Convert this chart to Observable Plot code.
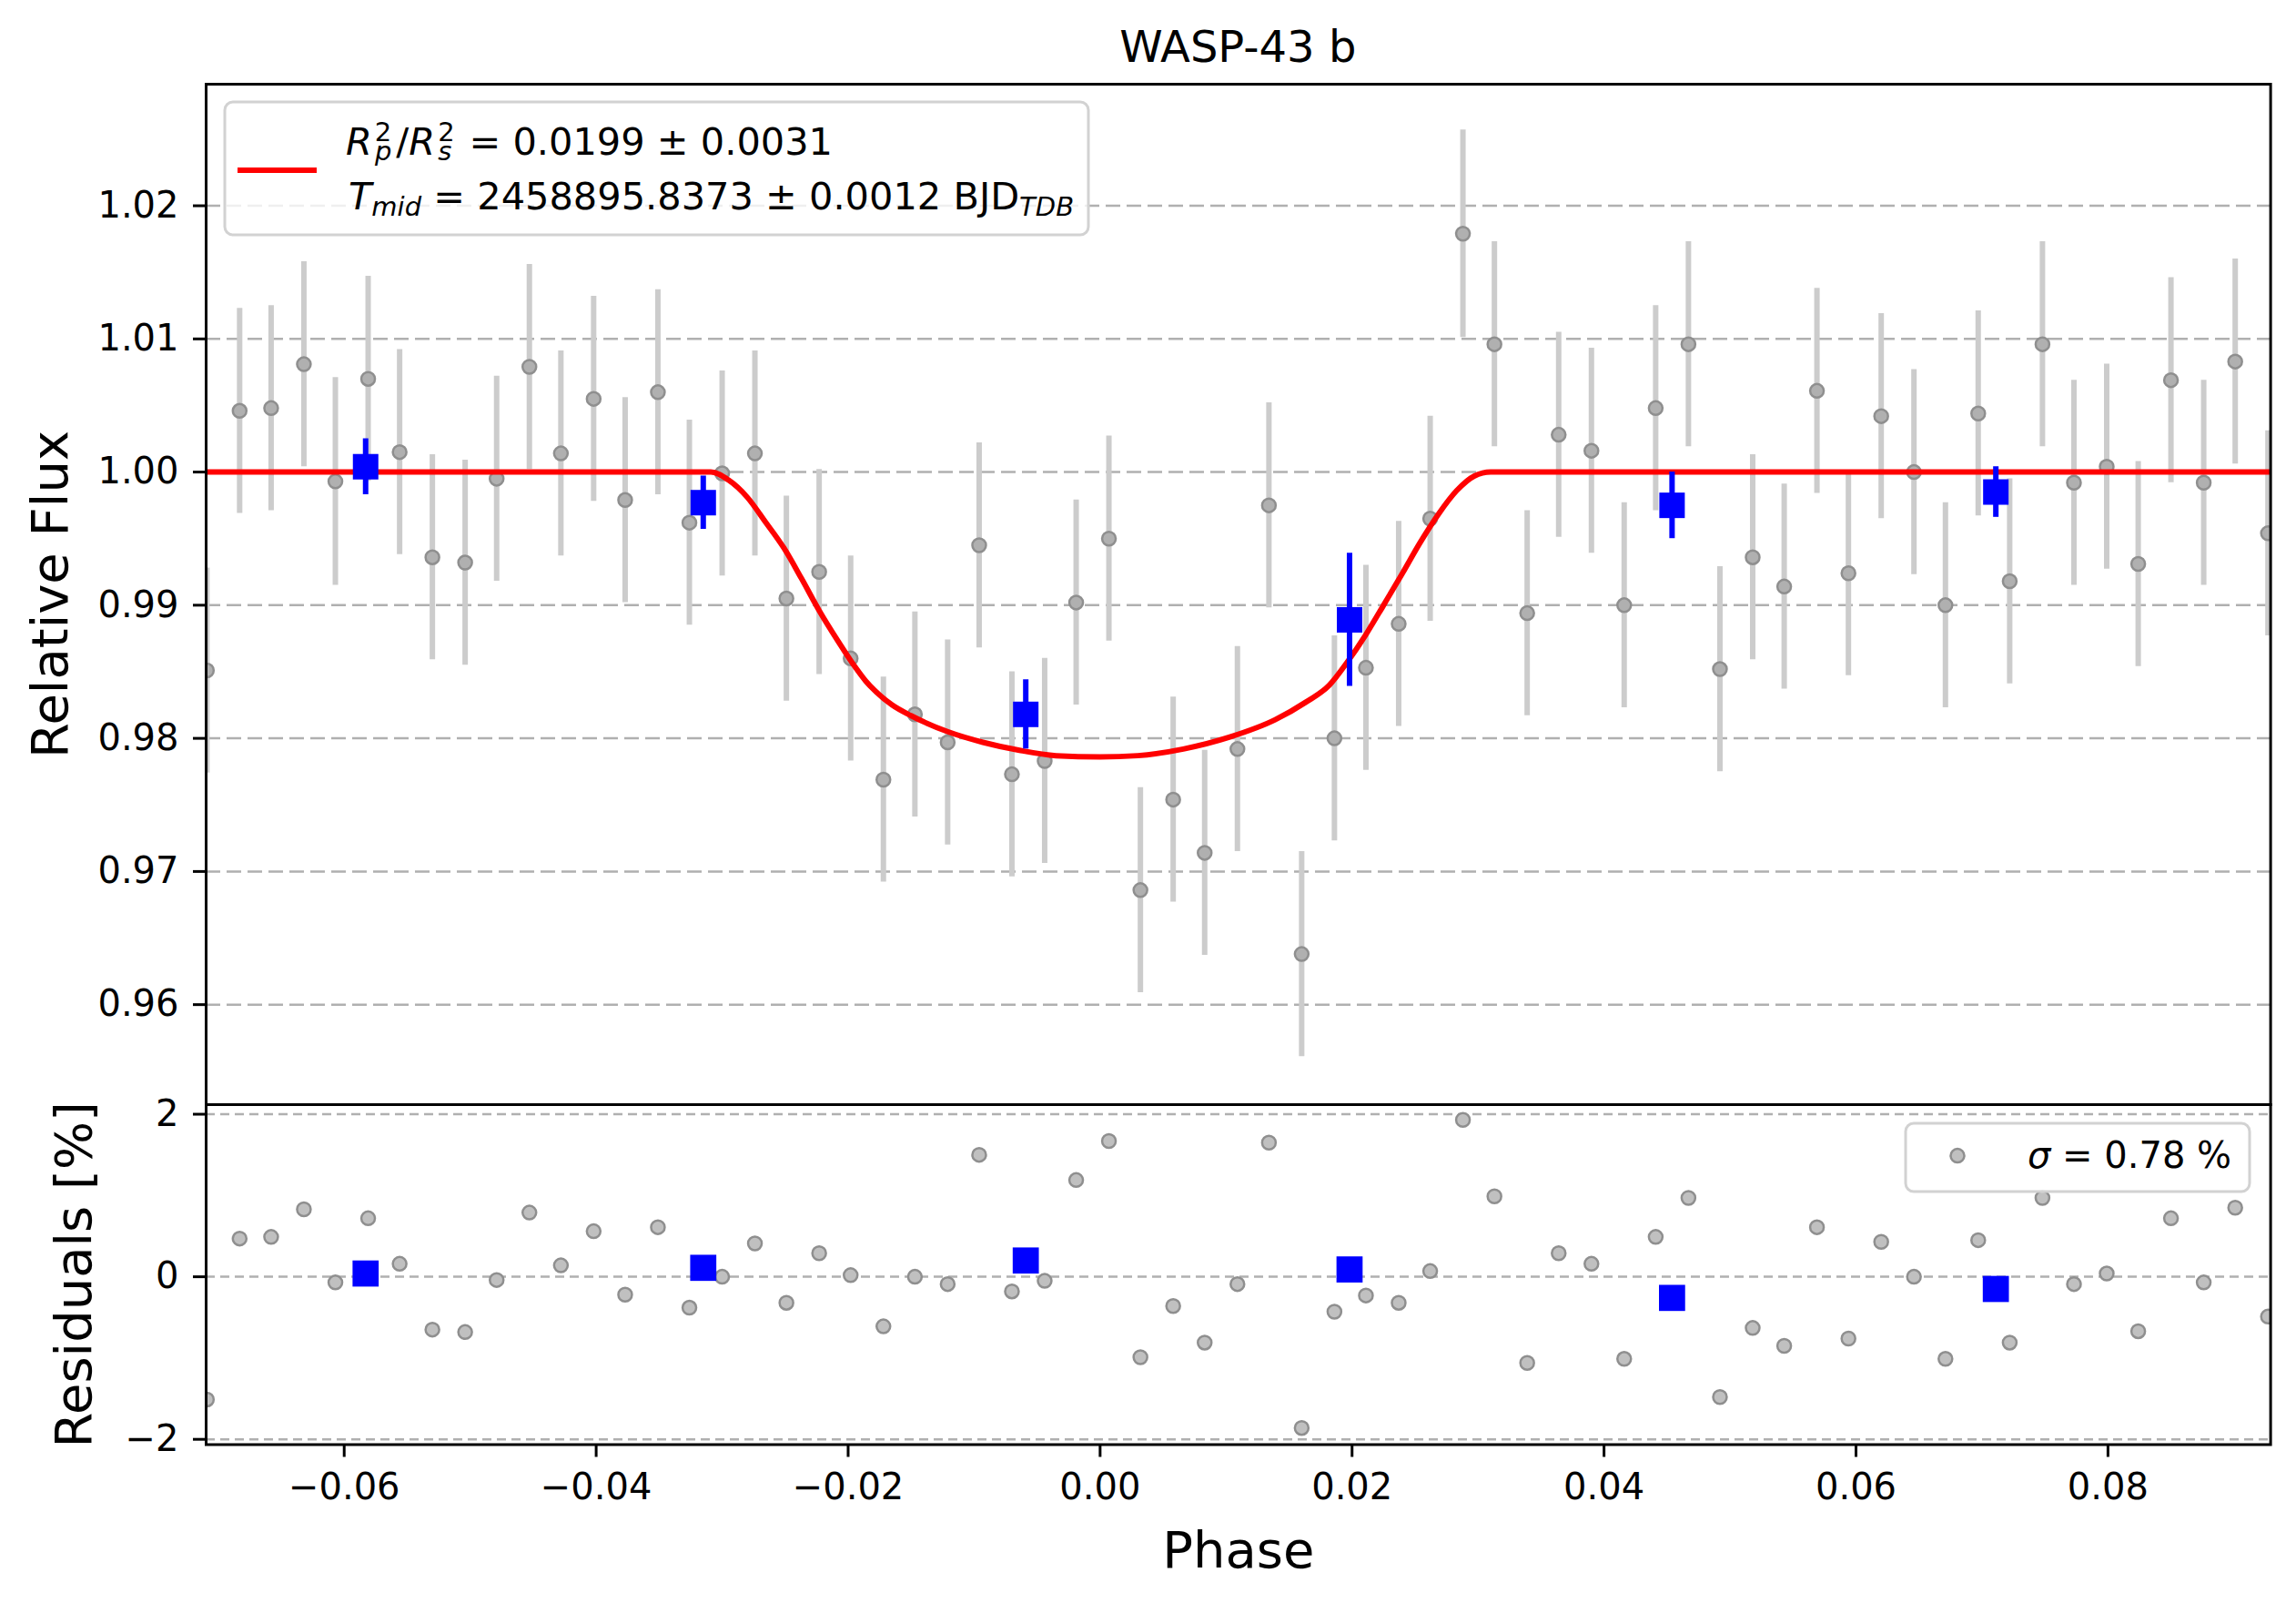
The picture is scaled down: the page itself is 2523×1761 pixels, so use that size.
<!DOCTYPE html>
<html>
<head>
<meta charset="utf-8">
<script src="https://cdn.jsdelivr.net/npm/d3@7"></script>
<script src="https://cdn.jsdelivr.net/npm/@observablehq/plot@0.6"></script>
<style>
  html, body { margin: 0; padding: 0; background: #ffffff; }
  #fig { position: relative; width: 2523px; height: 1761px; background: #ffffff; overflow: hidden; }
  #fig svg { position: absolute; left: 0; }
</style>
</head>
<body>
<div id="fig"></div>
<script>
// ---------------- data ----------------
const phase = [
  -0.0709, -0.0683, -0.0658, -0.0632, -0.0607, -0.0581, -0.0556, -0.0530, -0.0504, -0.0479,
  -0.0453, -0.0428, -0.0402, -0.0377, -0.0351, -0.0326, -0.0300, -0.0274, -0.0249, -0.0223,
  -0.0198, -0.0172, -0.0147, -0.0121, -0.0096, -0.0070, -0.0044, -0.0019,  0.0007,  0.0032,
   0.0058,  0.0083,  0.0109,  0.0134,  0.0160,  0.0186,  0.0211,  0.0237,  0.0262,  0.0288,
   0.0313,  0.0339,  0.0364,  0.0390,  0.0416,  0.0441,  0.0467,  0.0492,  0.0518,  0.0543,
   0.0569,  0.0594,  0.0620,  0.0646,  0.0671,  0.0697,  0.0722,  0.0748,  0.0773,  0.0799,
   0.0824,  0.0850,  0.0876,  0.0901,  0.0927
];
const flux = [
  0.9851, 1.0046, 1.0048, 1.0081, 0.9993, 1.0070, 1.0015, 0.9936, 0.9932, 0.9995,
  1.0079, 1.0014, 1.0055, 0.9979, 1.0060, 0.9962, 0.9999, 1.0014, 0.9905, 0.9925,
  0.9860, 0.9769, 0.9818, 0.9797, 0.9945, 0.9773, 0.9783, 0.9902, 0.9950, 0.9686,
  0.9754, 0.9714, 0.9792, 0.9975, 0.9638, 0.9800, 0.9853, 0.9886, 0.9965, 1.0179,
  1.0096, 0.9894, 1.0028, 1.0016, 0.9900, 1.0048, 1.0096, 0.9852, 0.9936, 0.9914,
  1.0061, 0.9924, 1.0042, 1.0000, 0.9900, 1.0044, 0.9918, 1.0096, 0.9992, 1.0004,
  0.9931, 1.0069, 0.9992, 1.0083, 0.9954
];
const fluxErr = [
  0.0077, 0.0077, 0.0077, 0.0077, 0.0078, 0.0077, 0.0077, 0.0077, 0.0077, 0.0077,
  0.0077, 0.0077, 0.0077, 0.0077, 0.0077, 0.0077, 0.0077, 0.0077, 0.0077, 0.0077,
  0.0077, 0.0077, 0.0077, 0.0077, 0.0077, 0.0077, 0.0077, 0.0077, 0.0077, 0.0077,
  0.0077, 0.0077, 0.0077, 0.0077, 0.0077, 0.0077, 0.0077, 0.0077, 0.0077, 0.0078,
  0.0077, 0.0077, 0.0077, 0.0077, 0.0077, 0.0077, 0.0077, 0.0077, 0.0077, 0.0077,
  0.0077, 0.0077, 0.0077, 0.0077, 0.0077, 0.0077, 0.0077, 0.0077, 0.0077, 0.0077,
  0.0077, 0.0077, 0.0077, 0.0077, 0.0077
];
const residual = [
  -1.51,  0.47,  0.49,  0.83, -0.07,  0.72,  0.16, -0.65, -0.68, -0.04,
   0.79,  0.14,  0.56, -0.22,  0.61, -0.38,  0.00,  0.41, -0.32,  0.29,
   0.02, -0.61,  0.00, -0.09,  1.50, -0.18, -0.05,  1.19,  1.67, -0.99,
  -0.36, -0.81, -0.09,  1.65, -1.86, -0.43, -0.23, -0.32,  0.07,  1.93,
   0.99, -1.06,  0.29,  0.16, -1.01,  0.49,  0.97, -1.48, -0.63, -0.85,
   0.61, -0.76,  0.43,  0.00, -1.01,  0.45, -0.81,  0.97, -0.09,  0.04,
  -0.67,  0.72, -0.07,  0.85, -0.49
];
const binPhase = [-0.0583, -0.0315, -0.0059, 0.0198, 0.0454, 0.0711];
const binFlux = [1.0004, 0.9977, 0.9818, 0.9889, 0.9975, 0.9985];
const binErr = [0.0021, 0.0020, 0.0026, 0.0050, 0.0025, 0.0019];
const binResidual = [0.04, 0.11, 0.20, 0.09, -0.26, -0.15];

// transit model curve
const modelPhase = [
  -0.0710, -0.0500, -0.0340, -0.0309, -0.0295, -0.0280, -0.0266, -0.0251, -0.0237, -0.0223,
  -0.0208, -0.0194, -0.0186, -0.0179, -0.0165, -0.0150, -0.0121, -0.0093, -0.0064, -0.0035,
   0.0000,  0.0030,  0.0066,  0.0103,  0.0139,  0.0163,  0.0182,  0.0196,  0.0211,  0.0225,
   0.0240,  0.0254,  0.0269,  0.0283,  0.0297,  0.0310,  0.0340,  0.0600,  0.0929
];
const modelFlux = [
  1.0000, 1.0000, 1.0000, 1.0000, 0.9994, 0.9981, 0.9963, 0.9943, 0.9920, 0.9896,
  0.9873, 0.9853, 0.9843, 0.9836, 0.9825, 0.9817, 0.9805, 0.9797, 0.9791, 0.9787,
  0.9786, 0.9787, 0.9792, 0.9801, 0.9814, 0.9827, 0.9840, 0.9857, 0.9878, 0.9900,
  0.9924, 0.9947, 0.9969, 0.9986, 0.9997, 1.0000, 1.0000, 1.0000, 1.0000
];

const fluxTicks = [0.96, 0.97, 0.98, 0.99, 1.00, 1.01, 1.02];
const residualTicks = [-2, 0, 2];
const phaseTicks = [-0.06, -0.04, -0.02, 0.00, 0.02, 0.04, 0.06, 0.08];

const titleText = "WASP-43 b";
const fluxLabel = "Relative Flux";
const residualLabel = "Residuals [%]";
const phaseLabel = "Phase";

// ---------------- tables for the library ----------------
const points = phase.map((p, i) => ({phase: p, flux: flux[i], err: fluxErr[i], res: residual[i]}));
const bins = binPhase.map((p, i) => ({phase: p, flux: binFlux[i], err: binErr[i], res: binResidual[i]}));
const model = modelPhase.map((p, i) => ({phase: p, flux: modelFlux[i]}));

// ---------------- layout ----------------
const W = 2523, H = 1761;
const LEFT = 226, RIGHT = 2494.6, TOP = 92, MID = 1213, BOTTOM = 1586.5;
const xDomain = [-0.07096, 0.09291];
const fontFamily = "DejaVu Sans";
const gridColor = "#b0b0b0";
const dotFill = "#b0b0b0", dotStroke = "#8f8f8f";

const upper = Plot.plot({
  width: W, height: MID,
  marginLeft: LEFT, marginRight: W - RIGHT, marginTop: TOP, marginBottom: 0,
  style: {fontFamily, fontSize: "40px", background: "transparent", color: "black", overflow: "visible"},
  x: {domain: xDomain, axis: null},
  y: {domain: [0.95249, 1.02913], axis: null},
  marks: [
    Plot.ruleY(fluxTicks, {stroke: gridColor, strokeWidth: 2.5, strokeDasharray: "16,7"}),
    Plot.ruleX(points, {x: "phase", y1: d => d.flux - d.err, y2: d => d.flux + d.err, stroke: "#cccccc", strokeWidth: 6, clip: true}),
    Plot.dot(points, {x: "phase", y: "flux", r: 7.5, fill: dotFill, stroke: dotStroke, strokeWidth: 2.5, clip: true}),
    Plot.line(model, {x: "phase", y: "flux", stroke: "#ff0000", strokeWidth: 6, curve: "monotone-x", clip: true}),
    Plot.ruleX(bins, {x: "phase", y1: d => d.flux - d.err, y2: d => d.flux + d.err, stroke: "#0000ff", strokeWidth: 6}),
    Plot.dot(bins, {x: "phase", y: "flux", symbol: "square", r: 15.8, fill: "#0000ff", stroke: null}),
    Plot.axisY(fluxTicks, {anchor: "left", tickSize: 14, tickPadding: 16, strokeWidth: 3, tickFormat: d3.format(".2f"), label: null}),
    Plot.text([fluxLabel], {text: d => d, frameAnchor: "left", textAnchor: "middle", rotate: -90, dx: -192, lineAnchor: "top", fontSize: 56, fill: "black"}),
    Plot.frame({stroke: "black", strokeWidth: 3})
  ]
});
upper.style.top = "0px";

const lower = Plot.plot({
  width: W, height: H - MID,
  marginLeft: LEFT, marginRight: W - RIGHT, marginTop: 0, marginBottom: H - BOTTOM,
  style: {fontFamily, fontSize: "40px", background: "transparent", color: "black", overflow: "visible"},
  x: {domain: xDomain, axis: null},
  y: {domain: [-2.065, 2.118], axis: null},
  marks: [
    Plot.ruleY(residualTicks, {stroke: gridColor, strokeWidth: 2.5, strokeDasharray: "10,6"}),
    Plot.dot(points, {x: "phase", y: "res", r: 7.5, fill: "#c0c0c0", stroke: dotStroke, strokeWidth: 2.5, clip: true}),
    Plot.dot(bins, {x: "phase", y: "res", symbol: "square", r: 16.2, fill: "#0000ff", stroke: null}),
    Plot.axisY(residualTicks, {anchor: "left", tickSize: 14, tickPadding: 16, strokeWidth: 3, tickFormat: d3.format("d"), label: null}),
    Plot.axisX(phaseTicks, {anchor: "bottom", tickSize: 14, tickPadding: 18, strokeWidth: 3, tickFormat: d3.format(".2f"), label: null}),
    Plot.text([residualLabel], {text: d => d, frameAnchor: "left", textAnchor: "middle", rotate: -90, dx: -166, lineAnchor: "top", fontSize: 56, fill: "black"}),
    Plot.text([phaseLabel], {text: d => d, frameAnchor: "bottom", textAnchor: "middle", dy: 134.5, lineAnchor: "bottom", fontSize: 56, fill: "black"}),
    Plot.frame({stroke: "black", strokeWidth: 3})
  ]
});
lower.style.top = MID + "px";

const fig = document.getElementById("fig");
fig.appendChild(upper);
fig.appendChild(lower);

// ---------------- title and legends ----------------
const su = d3.select(upper);
su.append("text")
  .attr("x", (LEFT + RIGHT) / 2).attr("y", 68)
  .attr("text-anchor", "middle").attr("font-family", fontFamily).attr("font-size", 48).attr("fill", "black")
  .text(titleText);

const LF = 41.5, SF = 29;
const lg = su.append("g").attr("font-family", fontFamily).attr("font-size", LF).attr("fill", "black").attr("text-anchor", "start");
lg.append("rect").attr("x", 247).attr("y", 112).attr("width", 949).attr("height", 146).attr("rx", 9)
  .attr("fill", "white").attr("fill-opacity", 0.8).attr("stroke", "#d2d2d2").attr("stroke-width", 3);
lg.append("line").attr("x1", 261).attr("x2", 348).attr("y1", 187).attr("y2", 187)
  .attr("stroke", "#ff0000").attr("stroke-width", 6);

const t1 = lg.append("text").attr("x", 380).attr("y", 170).attr("text-anchor", "start");
t1.append("tspan").attr("font-style", "italic").text("R");
t1.append("tspan").attr("font-size", SF).attr("dx", 3).attr("dy", -15).text("2");
t1.append("tspan").attr("font-size", SF).attr("font-style", "italic").attr("dx", -18.4).attr("dy", 21).text("p");
t1.append("tspan").attr("dx", 5).attr("dy", -6).text("/");
t1.append("tspan").attr("font-style", "italic").text("R");
t1.append("tspan").attr("font-size", SF).attr("dx", 3).attr("dy", -15).text("2");
t1.append("tspan").attr("font-size", SF).attr("font-style", "italic").attr("dx", -18.4).attr("dy", 21).text("s");
t1.append("tspan").attr("dx", 6).attr("dy", -6).text(" = 0.0199 \u00b1 0.0031");

const t2 = lg.append("text").attr("x", 383).attr("y", 230).attr("text-anchor", "start");
t2.append("tspan").attr("font-style", "italic").text("T");
t2.append("tspan").attr("font-size", SF).attr("font-style", "italic").attr("dy", 7).text("mid");
t2.append("tspan").attr("dy", -7).text(" = 2458895.8373 \u00b1 0.0012 BJD");
t2.append("tspan").attr("font-size", SF).attr("font-style", "italic").attr("dy", 7).text("TDB");

const sl = d3.select(lower);
const lg2 = sl.append("g").attr("font-family", fontFamily).attr("font-size", 40).attr("fill", "black").attr("text-anchor", "start");
lg2.append("rect").attr("x", 2094).attr("y", 1234 - MID).attr("width", 378).attr("height", 75).attr("rx", 9)
  .attr("fill", "white").attr("fill-opacity", 0.8).attr("stroke", "#d2d2d2").attr("stroke-width", 3);
lg2.append("circle").attr("cx", 2151).attr("cy", 1269.6 - MID).attr("r", 7.5)
  .attr("fill", "#c0c0c0").attr("stroke", dotStroke).attr("stroke-width", 2.5);
const t3 = lg2.append("text").attr("x", 2228).attr("y", 1282.5 - MID).attr("text-anchor", "start");
t3.append("tspan").attr("font-style", "italic").text("\u03c3");
t3.append("tspan").text(" = 0.78 %");
</script>
</body>
</html>
